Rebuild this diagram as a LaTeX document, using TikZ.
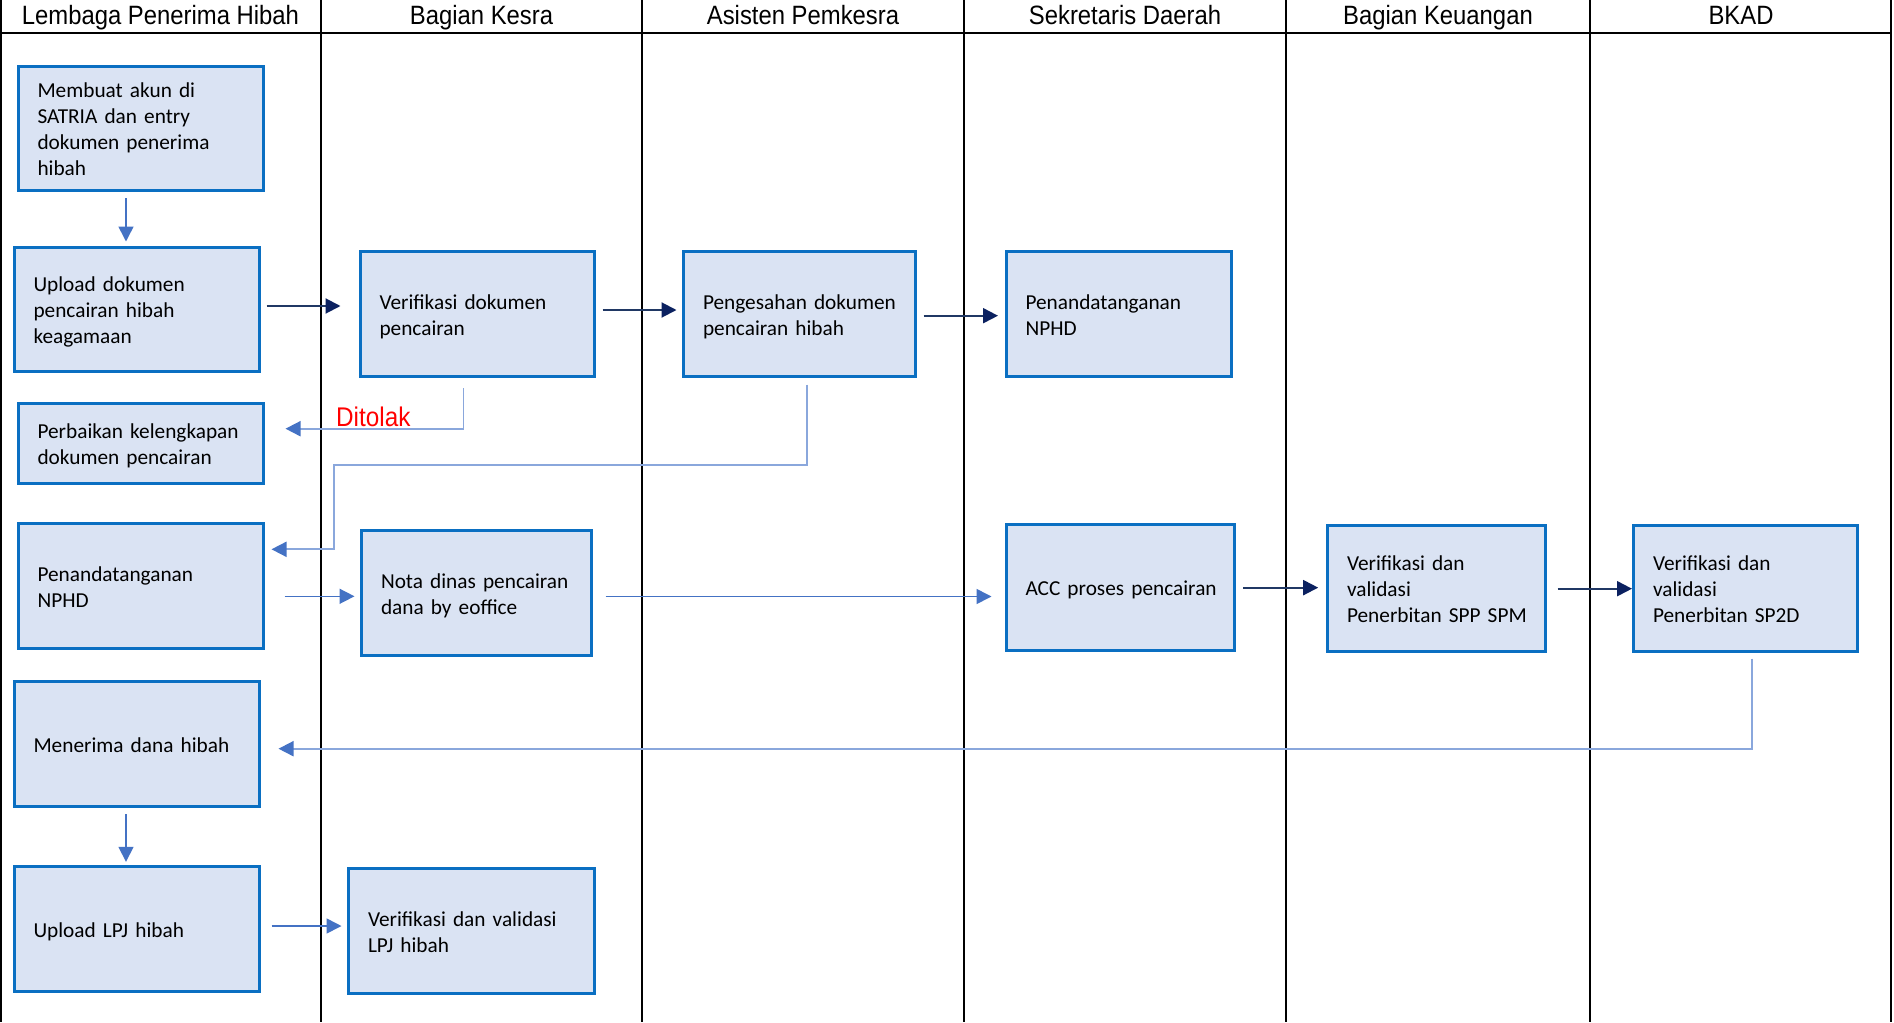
\documentclass[tikz,border=0pt]{standalone}
\usepackage{fontspec}
\setmainfont{Carlito}
\newfontfamily\hdrfont[FakeStretch=0.9]{Liberation Sans}
\usetikzlibrary{arrows.meta}
\definecolor{boxc}{HTML}{0A6FC2}
\definecolor{boxf}{HTML}{DAE3F3}
\definecolor{navyl}{HTML}{203864}
\definecolor{navyh}{HTML}{0B2160}
\definecolor{medb}{HTML}{4472C4}
\definecolor{lightb}{HTML}{8AA7DC}
\begin{document}
\begin{tikzpicture}[x=1pt,y=-1pt,
  bx/.style={draw=boxc, fill=boxf, line width=3pt, inner xsep=19.5pt, inner ysep=0pt,
    align=left, font=\fontsize{21.3}{26}\selectfont,
    execute at begin node=\rule{0pt}{24.2pt}, execute at end node=\strut},
  lane/.style={line width=2pt, draw=black},
  hdr/.style={font=\hdrfont\fontsize{26.5}{30}\selectfont, anchor=base, inner sep=0pt},
  arN/.style={line width=2pt, draw=navyl, -{Triangle[length=15pt,width=15pt,color=navyh]}},
  arA/.style={line width=1.6pt, draw=medb, -{Triangle[length=15pt,width=15pt,color=medb]}},
  arL/.style={line width=1.8pt, draw=lightb, -{Triangle[length=15pt,width=15pt,color=medb]}}
]
\useasboundingbox (0,0) rectangle (1894,1022);
\fill[white] (0,0) rectangle (1894,1022);

% lanes
\draw[lane] (0,32.7) -- (1892,32.7);
\foreach \lx in {1,321,642,964,1286,1590,1891}{
  \draw[lane] (\lx,0) -- (\lx,1022);
}

% headers
\node[hdr] (h1) at (160.5,25) {Lembaga Penerima Hibah};
\node[hdr] (h2) at (481.5,25) {Bagian Kesra};
\node[hdr] (h3) at (803,25) {Asisten Pemkesra};
\node[hdr] (h4) at (1125,25) {Sekretaris Daerah};
\node[hdr] (h5) at (1438,25) {Bagian Keuangan};
\node[hdr] (h6) at (1741,25) {BKAD};

% boxes
\node[bx, minimum width=245.5pt, minimum height=124.6pt, text width=206.5pt] (mem) at (140.75,128.5)
  {Membuat akun di\\SATRIA dan entry\\dokumen penerima\\hibah};
\node[bx, minimum width=245.5pt, minimum height=124pt, text width=206.5pt] (upl) at (136.75,309.5)
  {Upload dokumen\\pencairan hibah\\keagamaan};
\node[bx, minimum width=245.5pt, minimum height=80pt, text width=206.5pt] (perb) at (140.75,443.5)
  {\mbox{Perbaikan kelengkapan}\\dokumen pencairan};
\node[bx, minimum width=245.5pt, minimum height=125pt, text width=206.5pt] (npl) at (140.75,586)
  {Penandatanganan\\NPHD};
\node[bx, minimum width=245.5pt, minimum height=124.7pt, text width=206.5pt] (ter) at (136.75,743.85)
  {Menerima dana hibah};
\node[bx, minimum width=245.5pt, minimum height=125pt, text width=206.5pt] (lpj) at (136.75,929.3)
  {Upload LPJ hibah};

\node[bx, minimum width=234pt, minimum height=124.7pt, text width=195pt] (ver) at (477,313.85)
  {Verifikasi dokumen\\pencairan};
\node[bx, minimum width=230pt, minimum height=124.7pt, text width=191pt] (nota) at (476.5,592.85)
  {\mbox{Nota dinas pencairan}\\dana by eoffice};
\node[bx, minimum width=246pt, minimum height=124.7pt, text width=207pt] (vlpj) at (471.5,931.15)
  {\mbox{Verifikasi dan validasi}\\LPJ hibah};

\node[bx, minimum width=232pt, minimum height=124.7pt, text width=193pt] (peng) at (799.5,313.85)
  {\mbox{Pengesahan dokumen}\\pencairan hibah};

\node[bx, minimum width=225.8pt, minimum height=124.7pt, text width=186.8pt] (nps) at (1118.9,313.85)
  {Penandatanganan\\NPHD};
\node[bx, minimum width=228.5pt, minimum height=125.7pt, text width=189.5pt] (acc) at (1120.25,587.65)
  {\mbox{ACC proses pencairan}};

\node[bx, minimum width=217.5pt, minimum height=125.4pt, text width=178.5pt] (spp) at (1436.25,588.5)
  {Verifikasi dan\\validasi\\\mbox{Penerbitan SPP SPM}};
\node[bx, minimum width=224pt, minimum height=125.4pt, text width=185pt] (sp2d) at (1745.5,588.5)
  {Verifikasi dan\\validasi\\\mbox{Penerbitan SP2D}};

% label
\node[font=\hdrfont\fontsize{27}{30}\selectfont, text=red, anchor=base west, inner sep=0pt] (tolak) at (336,426.7) {Ditolak};

% waypoints
\coordinate (w1) at (334,464.7);

% connectors
\draw[arA, shorten <=6pt, shorten >=4.5pt] ([xshift=-14.75pt]mem.south) -- ([xshift=-14.75pt]mem.south |- upl.north);
\draw[arN, shorten <=5.5pt, shorten >=18pt] ([yshift=3.5pt]upl.east) -- ([yshift=3.5pt]upl.east -| ver.west);
\draw[arN, shorten <=7pt, shorten >=5.5pt] ([yshift=3.85pt]ver.east) -- ([yshift=3.85pt]ver.east -| peng.west);
\draw[arN, shorten <=6.5pt, shorten >=6.5pt] ([yshift=-1.85pt]peng.east) -- ([yshift=-1.85pt]peng.east -| nps.west);
\draw[arL, shorten <=10.5pt, shorten >=20.5pt] ([xshift=-13.6pt]ver.south) |- ([yshift=14.8pt]perb.east);
\draw[arL, shorten <=6.8pt, shorten >=6.5pt] ([xshift=7.5pt]peng.south) |- (w1) |- ([yshift=36.7pt]npl.east);
\draw[arA, shorten <=19.5pt, shorten >=5.5pt] ([yshift=-10.3pt]npl.east) -- ([yshift=-10.3pt]npl.east -| nota.west);
\draw[arA, shorten <=12.5pt, shorten >=13pt] ([yshift=-3.65pt]nota.east) -- ([yshift=-3.65pt]nota.east -| acc.west);
\draw[arN, shorten <=7pt, shorten >=7.8pt] (acc.east) -- (acc.east -| spp.west);
\draw[arN, shorten <=11pt] ([yshift=-0.2pt]spp.east) -- ([yshift=-0.2pt]spp.east -| sp2d.west);
\draw[arL, shorten <=5.8pt, shorten >=17.5pt] ([xshift=6.5pt]sp2d.south) |- ([yshift=-4.85pt]ter.east);
\draw[arA, shorten <=6.5pt, shorten >=3.5pt] ([xshift=-10.75pt]ter.south) -- ([xshift=-10.75pt]ter.south |- lpj.north);
\draw[arA, shorten <=10.5pt, shorten >=5.5pt] ([yshift=3.3pt]lpj.east) -- ([yshift=3.3pt]lpj.east -| vlpj.west);
\end{tikzpicture}
\end{document}
